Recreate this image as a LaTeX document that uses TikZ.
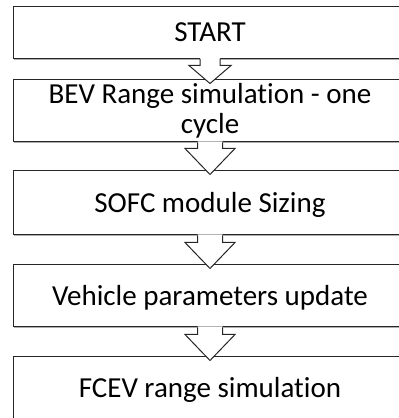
\documentclass[tikz,border=0pt]{standalone}
\usepackage{fontspec}
\setmainfont{Carlito}[Ligatures={NoCommon}]
\usetikzlibrary{calc,shadows}
\tikzset{
  stage/.style={draw=black!85, line width=1pt, fill=white, minimum width=394pt,
    minimum height=62pt, inner sep=0pt, font=\fontsize{29}{30}\selectfont,
    drop shadow={shadow xshift=1pt, shadow yshift=-1.5pt, opacity=0.45, fill=black!70}},
  oneline/.style={text height=18.3pt, text depth=0pt},
  flowarrow/.style={draw=black!85, line width=1pt, line join=miter},
}
\newcommand{\flowarr}[6]{%
  \fill[white] let \p1=(#1.south), \p2=(#2.north) in
    (\x1-#3,\y1+1pt) -- (\x1-#3,\y1-#5) -- (\x1-#4,\y1-#5) -- (\x1,\y2-#6)
    -- (\x1+#4,\y1-#5) -- (\x1+#3,\y1-#5) -- (\x1+#3,\y1+1pt) -- cycle;
  \draw[flowarrow] let \p1=(#1.south), \p2=(#2.north) in
    (\x1-#3,\y1) -- (\x1-#3,\y1-#5) -- (\x1-#4,\y1-#5) -- (\x1,\y2-#6)
    -- (\x1+#4,\y1-#5) -- (\x1+#3,\y1-#5) -- (\x1+#3,\y1);
}
\begin{document}
\begin{tikzpicture}[x=1pt,y=1pt]
  \useasboundingbox (0,0) rectangle (399,418);
  \clip (0,0) rectangle (399,418);
  \node[stage, oneline, minimum height=51.5pt] (b1) at (210,385.25) {START};
  \node[stage, align=center] (b2) at (210,307) {BEV Range simulation - one\\cycle};
  \node[stage, oneline, minimum height=64pt] (b3) at (210,215) {SOFC module Sizing};
  \node[stage, oneline] (b4) at (210,122) {Vehicle parameters update};
  \node[stage, oneline] (b5) at (210,30) {FCEV range simulation};
  \flowarr{b1}{b2}{10pt}{21pt}{6.5pt}{4pt}
  \flowarr{b2}{b3}{12.5pt}{25pt}{6pt}{4pt}
  \flowarr{b3}{b4}{12.5pt}{25pt}{7pt}{4pt}
  \flowarr{b4}{b5}{12.5pt}{25pt}{7pt}{4pt}
\end{tikzpicture}
\end{document}
